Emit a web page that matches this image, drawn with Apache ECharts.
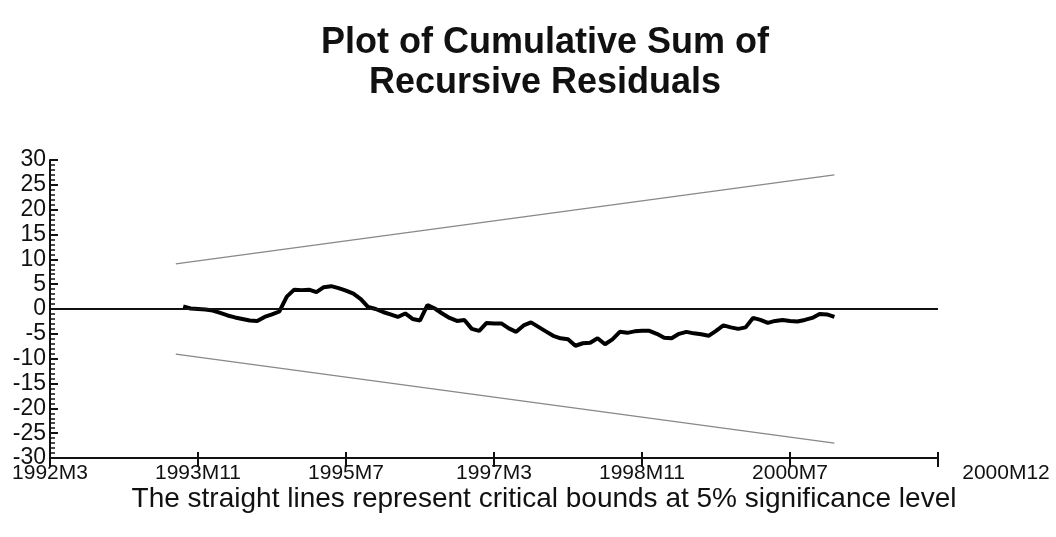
<!DOCTYPE html>
<html>
<head>
<meta charset="utf-8">
<title>CUSUM of Recursive Residuals</title>
<script src="https://cdn.jsdelivr.net/npm/echarts@6/dist/echarts.min.js"></script>
<style>
  html, body { margin: 0; padding: 0; background: #fff; }
  #chart { width: 1056px; height: 537px; }
</style>
</head>
<body>
<div id="chart"></div>
<script>
// x = months since 1992M3
const tickLabels = ['1992M3', '1993M11', '1995M7', '1997M3', '1998M11', '2000M7', '2000M12'];

// cusum starts at month 18 (1993M9)
const cusumStart = 18;
const cusumValues = [
  0.5, 0.1, 0.0, -0.1, -0.3, -0.8, -1.3, -1.7, -2.0, -2.3,
  -2.4, -1.6, -1.1, -0.5, 2.5, 3.9, 3.8, 3.9, 3.4, 4.4,
  4.6, 4.2, 3.7, 3.1, 2.0, 0.4, 0.0, -0.6, -1.1, -1.6,
  -0.9, -2.0, -2.3, 0.8, 0.1, -0.9, -1.8, -2.4, -2.2, -4.0,
  -4.4, -2.8, -2.9, -2.9, -3.9, -4.6, -3.3, -2.7, -3.6, -4.5,
  -5.4, -5.9, -6.1, -7.4, -6.9, -6.8, -5.9, -7.1, -6.1, -4.6,
  -4.8, -4.5, -4.4, -4.4, -5.0, -5.8, -5.9, -5.0, -4.6, -4.9,
  -5.1, -5.4, -4.4, -3.3, -3.7, -4.0, -3.7, -1.8, -2.2, -2.8,
  -2.4, -2.2, -2.4, -2.5, -2.2, -1.8, -1.0, -1.1, -1.6
];

// 5% critical bounds (straight lines, end points)
const boundMonths = [17, 106];
const upperBound = [9.1, 27.0];
const lowerBound = [-9.1, -27.0];

const cusumData = cusumValues.map((v, i) => [cusumStart + i, v]);
const upperData = boundMonths.map((m, i) => [m, upperBound[i]]);
const lowerData = boundMonths.map((m, i) => [m, lowerBound[i]]);

const FONT = '"Liberation Sans", Arial, sans-serif';

const chart = echarts.init(document.getElementById('chart'));
chart.setOption({
  backgroundColor: '#fff',
  animation: false,
  title: [
    {
      text: 'Plot of Cumulative Sum of\nRecursive Residuals',
      left: 540, top: 18, textAlign: 'center',
      textStyle: { fontFamily: FONT, fontSize: 36, fontWeight: 'bold', color: '#111', lineHeight: 40 }
    },
    {
      text: 'The straight lines represent critical bounds at 5% significance level',
      left: 539, top: 480, textAlign: 'center',
      textStyle: { fontFamily: FONT, fontSize: 28, fontWeight: 'normal', color: '#111' }
    }
  ],
  grid: { left: 50, right: 118, top: 160, bottom: 79, containLabel: false },
  xAxis: [
    {
      type: 'value', min: 0, max: 120, interval: 20,
      axisLine: { onZero: false, lineStyle: { color: '#111', width: 2 } },
      axisTick: { show: true, length: 9, lineStyle: { color: '#111', width: 2 } },
      splitLine: { show: false },
      axisLabel: {
        fontFamily: FONT, fontSize: 21, color: '#111', margin: 5,
        showMaxLabel: true, showMinLabel: true,
        formatter: function (val) {
          const idx = Math.round(val / 20);
          if (idx === tickLabels.length - 1) return '{last|' + tickLabels[idx] + '}';
          return tickLabels[idx] || '';
        },
        rich: { last: { fontFamily: FONT, fontSize: 21, color: '#111', padding: [0, 0, 0, 136] } }
      }
    },
    {
      type: 'value', min: 0, max: 120, interval: 20, position: 'bottom',
      axisLine: { show: false, onZero: false },
      axisTick: { show: true, inside: true, length: 6, lineStyle: { color: '#111', width: 2 } },
      axisLabel: { show: false },
      splitLine: { show: false }
    }
  ],
  yAxis: {
    type: 'value', min: -30, max: 30, interval: 5,
    axisLine: { show: true, onZero: false, lineStyle: { color: '#111', width: 2 } },
    axisTick: { show: true, inside: true, length: 8, lineStyle: { color: '#111', width: 2 } },
    minorTick: { show: true, splitNumber: 5, length: 5, lineStyle: { color: '#111', width: 1.5 } },
    splitLine: { show: false },
    axisLabel: { fontFamily: FONT, fontSize: 23, color: '#111', margin: 4 }
  },
  series: [
    {
      name: 'Upper bound', type: 'line', data: upperData, symbol: 'none',
      lineStyle: { color: '#888', width: 1.2 }
    },
    {
      name: 'Lower bound', type: 'line', data: lowerData, symbol: 'none',
      lineStyle: { color: '#888', width: 1.2 }
    },
    {
      name: 'CUSUM', type: 'line', data: cusumData, symbol: 'none',
      lineStyle: { color: '#000', width: 4 },
      markLine: {
        silent: true, symbol: 'none', label: { show: false },
        lineStyle: { color: '#111', width: 2, type: 'solid' },
        data: [{ yAxis: 0 }]
      }
    }
  ]
});
window.addEventListener('resize', () => chart.resize());
</script>
</body>
</html>
